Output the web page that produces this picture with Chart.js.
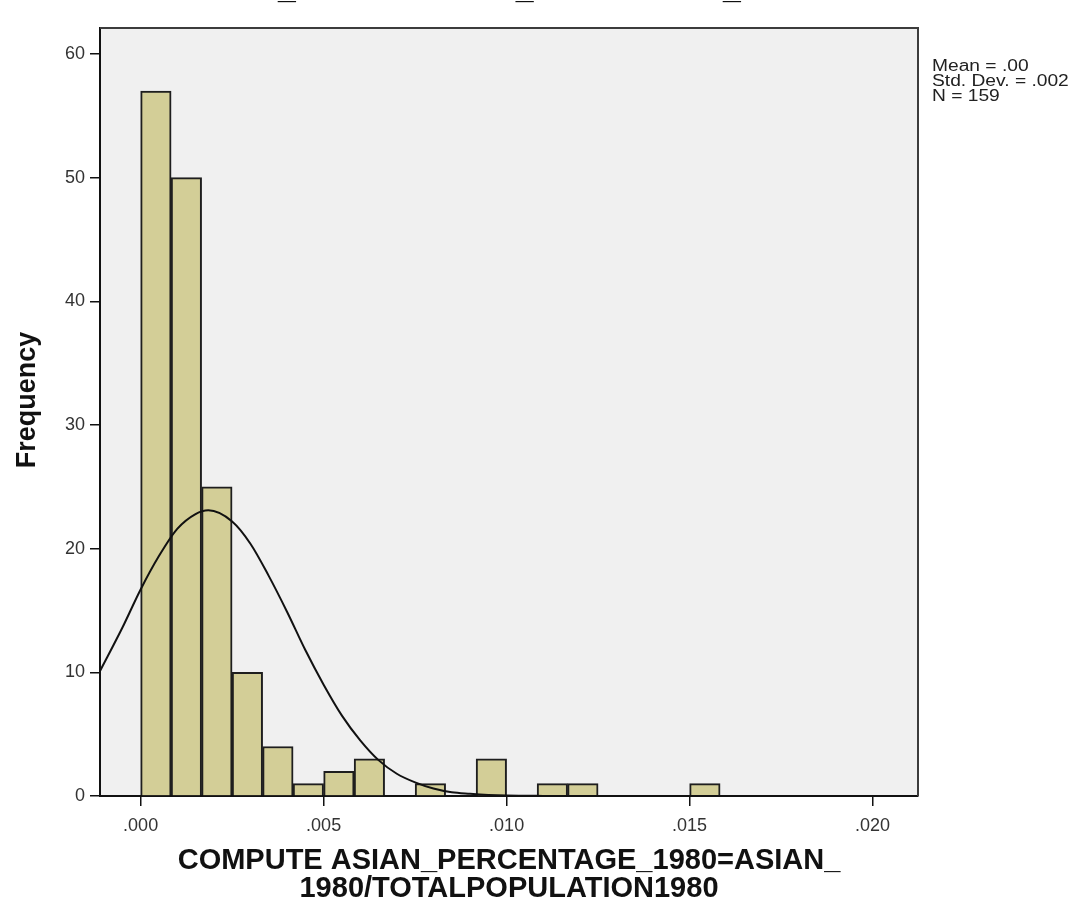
<!DOCTYPE html>
<html>
<head>
<meta charset="utf-8">
<script src="https://cdn.jsdelivr.net/npm/chart.js@4.4.1/dist/chart.umd.min.js"></script>
<style>
  html, body { margin: 0; padding: 0; background: #fff; }
  #wrap { width: 1089px; height: 913px; }
</style>
</head>
<body>
<div id="wrap"><canvas id="c" width="1089" height="913"></canvas></div>
<script>
// Histogram bins: centres of bins of width .005/6, starting at .000
const binCentres = [0.000417, 0.00125, 0.002083, 0.002917, 0.00375, 0.004583, 0.005417,
  0.00625, 0.007083, 0.007917, 0.00875, 0.009583, 0.010417, 0.01125, 0.012083,
  0.012917, 0.01375, 0.014583, 0.015417];
const binCounts = [57, 50, 25, 10, 4, 1, 2, 3, 0, 1, 0, 3, 0, 1, 1, 0, 0, 0, 1];

// Normal curve overlay, sampled points
const curveX = [-0.00111, -0.0005, 0.0, 0.0005, 0.001, 0.0015, 0.00185, 0.0025, 0.003,
  0.0035, 0.004, 0.0045, 0.005, 0.0055, 0.006, 0.0065, 0.007, 0.0075, 0.008, 0.0085,
  0.009, 0.0095, 0.010, 0.011, 0.012, 0.014, 0.017, 0.02124];
const curveY = [10.1, 13.6, 16.7, 19.4, 21.6, 22.8, 23.1, 22.2, 20.4,
  17.8, 14.9, 11.8, 9.0, 6.5, 4.5, 2.9, 1.8, 1.1, 0.6, 0.3,
  0.18, 0.09, 0.04, 0.01, 0, 0, 0, 0];

const xTicks = [0, 0.005, 0.010, 0.015, 0.020];
const yTicks = [0, 10, 20, 30, 40, 50, 60];

const varName = 'COMPUTE ASIAN_PERCENTAGE_1980=ASIAN_1980/TOTALPOPULATION1980';
const xTitle = ['COMPUTE ASIAN_PERCENTAGE_1980=ASIAN_', '1980/TOTALPOPULATION1980'];
const yTitle = 'Frequency';
const statLines = ['Mean = .00', 'Std. Dev. = .002', 'N = 159'];

const FONT = "'Liberation Sans', Arial, sans-serif";

const fmtTick = v => Math.abs(v) < 1e-9 ? '.000' : v.toFixed(3).replace(/^0/, '');

const panelPlugin = {
  id: 'panel',
  beforeDraw(chart) {
    const { ctx, chartArea: a } = chart;
    ctx.save();
    ctx.fillStyle = '#ffffff';
    ctx.fillRect(0, 0, chart.width, chart.height);
    ctx.fillStyle = '#f0f0f0';
    ctx.fillRect(a.left, a.top, a.right - a.left, a.bottom - a.top);
    ctx.restore();
  },
  afterDraw(chart) {
    const { ctx, chartArea: a } = chart;
    ctx.save();
    // frame on top and right
    ctx.strokeStyle = '#3c3c3c';
    ctx.lineWidth = 2;
    ctx.beginPath();
    ctx.moveTo(a.left, a.top);
    ctx.lineTo(a.right, a.top);
    ctx.lineTo(a.right, a.bottom);
    ctx.stroke();

    // chart title, running off the top edge
    ctx.fillStyle = '#111';
    ctx.font = 'bold 32px ' + FONT;
    ctx.textBaseline = 'alphabetic';
    ctx.textAlign = 'left';
    const lead = ctx.measureText('COMPUTE ASIAN').width;
    ctx.fillText(varName, 278 - lead, -2);

    // y axis title
    ctx.save();
    ctx.translate(28, 400);
    ctx.rotate(-Math.PI / 2);
    ctx.font = 'bold 27px ' + FONT;
    ctx.textAlign = 'center';
    ctx.textBaseline = 'middle';
    ctx.fillText(yTitle, 0, 0);
    ctx.restore();

    // summary statistics, in a slightly widened face
    ctx.save();
    ctx.translate(a.right + 14, 0);
    ctx.scale(1.2, 1);
    ctx.font = '16px ' + FONT;
    ctx.fillStyle = '#222';
    ctx.textBaseline = 'middle';
    ctx.textAlign = 'left';
    statLines.forEach((s, i) => ctx.fillText(s, 0, 67 + i * 15));
    ctx.restore();
    ctx.restore();
  }
};

new Chart(document.getElementById('c'), {
  data: {
    datasets: [
      {
        type: 'line',
        data: curveX.map((x, i) => ({ x, y: curveY[i] })),
        borderColor: '#111',
        borderWidth: 2,
        pointRadius: 0,
        tension: 0.4,
        cubicInterpolationMode: 'monotone',
        order: 0
      },
      {
        type: 'bar',
        data: binCentres.map((x, i) => ({ x, y: binCounts[i] })),
        backgroundColor: '#d3ce97',
        borderColor: '#1e1e1e',
        borderWidth: 2,
        borderSkipped: 'start',
        barPercentage: 1,
        categoryPercentage: 1,
        grouped: false,
        order: 1
      }
    ]
  },
  options: {
    responsive: false,
    animation: false,
    devicePixelRatio: 1,
    layout: { padding: { left: 0, right: 171, top: 28, bottom: 0 } },
    plugins: { legend: { display: false }, tooltip: { enabled: false } },
    scales: {
      x: {
        type: 'linear',
        min: -0.00111,
        max: 0.02124,
        offset: false,
        afterFit(s) { s.height = 117; },
        afterBuildTicks(s) { s.ticks = xTicks.map(v => ({ value: v })); },
        ticks: {
          callback: fmtTick,
          autoSkip: false,
          maxRotation: 0,
          color: '#333',
          padding: 9,
          font: { family: FONT, size: 18 }
        },
        grid: { drawOnChartArea: false, drawTicks: true, tickLength: 10, color: '#111', lineWidth: 1.5, offset: false },
        border: { color: '#111', width: 2 },
        title: {
          display: true,
          text: xTitle,
          color: '#111',
          font: { family: FONT, size: 29, weight: 'bold', lineHeight: 28 / 29 },
          padding: { top: 0, bottom: 10 }
        }
      },
      y: {
        min: 0,
        max: 62.1,
        afterFit(s) { s.width = 100; },
        afterBuildTicks(s) { s.ticks = yTicks.map(v => ({ value: v })); },
        ticks: {
          color: '#333',
          padding: 5,
          font: { family: FONT, size: 18 }
        },
        grid: { drawOnChartArea: false, drawTicks: true, tickLength: 10, color: '#111', lineWidth: 1.5 },
        border: { color: '#111', width: 2 },
        title: { display: false }
      }
    }
  },
  plugins: [panelPlugin]
});
</script>
</body>
</html>
